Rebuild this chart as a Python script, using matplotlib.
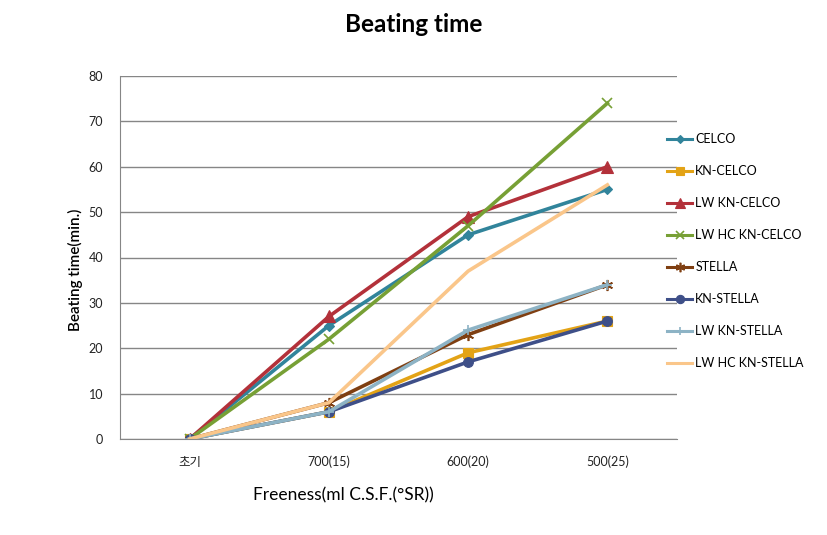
import matplotlib.pyplot as plt
import numpy as np

plt.rcParams['font.family'] = ['Lato', 'Noto Sans CJK KR', 'DejaVu Sans']

# values, beating time in min.
categories = ['초기', '700(15)', '600(20)', '500(25)']
celco = [0, 25, 45, 55]
kn_celco = [0, 6, 19, 26]
lw_kn_celco = [0, 27, 49, 60]
lw_hc_kn_celco = [0, 22, 47, 74]
stella = [0, 8, 23, 34]
kn_stella = [0, 6, 17, 26]
lw_kn_stella = [0, 6, 24, 34]
lw_hc_kn_stella = [0, 8, 37, 56]

series = [
    ('CELCO', celco, '#31849B', 'D', 5),
    ('KN-CELCO', kn_celco, '#E3A316', 's', 7),
    ('LW KN-CELCO', lw_kn_celco, '#B3313A', '^', 8),
    ('LW HC KN-CELCO', lw_hc_kn_celco, '#77A035', 'x', 7),
    ('STELLA', stella, '#7F3F12', (6, 2, 0), 8),
    ('KN-STELLA', kn_stella, '#3E4F88', 'o', 7),
    ('LW KN-STELLA', lw_kn_stella, '#8DB3C5', '+', 7),
    ('LW HC KN-STELLA', lw_hc_kn_stella, '#FAC68A', None, 7),
]

fig = plt.figure(figsize=(8.27, 5.35), dpi=100)
ax = fig.add_axes([120 / 827, 1 - 439 / 535, 557 / 827, (439 - 76) / 535])

x = np.arange(len(categories))
for name, vals, color, marker, ms in series:
    ax.plot(x, vals, color=color, lw=2.6, marker=marker, ms=ms,
            mew=1.2 if marker in ('x', '+', (6, 2, 0)) else 0.8,
            label=name, solid_joinstyle='round')

ax.set_xlim(-0.5, len(categories) - 0.5)
ax.set_ylim(0, 80)
ax.set_yticks(range(0, 81, 10))
ax.set_xticks(x)
ax.set_xticklabels(categories, fontsize=9)
ax.tick_params(axis='both', length=0, labelsize=9, colors='#222222')
ax.tick_params(axis='x', pad=12)
ax.tick_params(axis='y', pad=12)
ax.yaxis.grid(True, color='#868686', lw=1)
ax.set_axisbelow(True)
for s in ['top', 'right']:
    ax.spines[s].set_visible(False)
for s in ['left', 'bottom']:
    ax.spines[s].set_color('#868686')

fig.text(414 / 827, 1 - 25 / 535, 'Beating time', ha='center', va='center',
         fontsize=17.5, fontweight='bold')
fig.text(75 / 827, 1 - 270 / 535, 'Beating time(min.)', ha='center', va='center',
         rotation=90, fontsize=11, fontweight='semibold')
fig.text(343 / 827, 1 - 495 / 535, 'Freeness(ml C.S.F.(\u00b0SR))', ha='center',
         va='center', fontsize=12.5)

leg = fig.legend(loc='upper left', bbox_to_anchor=(656 / 827, 1 - 122 / 535),
                 frameon=False, fontsize=9, labelspacing=1.6, handlelength=2.0,
                 handletextpad=0.25)
for h in leg.legend_handles:
    h.set_linewidth(2.2)
    h.set_markersize(h.get_markersize() * 0.85)

fig.savefig('out.png', dpi=100)
